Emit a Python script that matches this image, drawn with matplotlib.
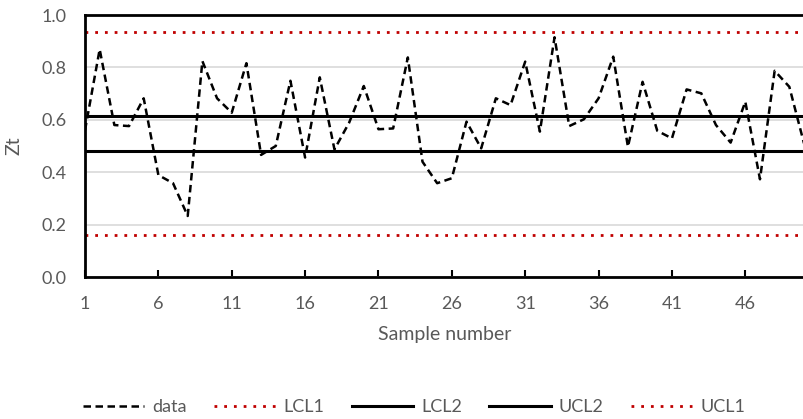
import matplotlib.pyplot as plt

# sample numbers and Zt values
samples = list(range(1, 51))
zt = [0.56, 0.869, 0.580, 0.576, 0.682, 0.389, 0.358, 0.233, 0.824, 0.682,
      0.627, 0.816, 0.466, 0.500, 0.749, 0.456, 0.762, 0.487, 0.589, 0.729,
      0.564, 0.567, 0.838, 0.440, 0.358, 0.377, 0.593, 0.491, 0.682, 0.656,
      0.822, 0.555, 0.915, 0.576, 0.602, 0.682, 0.841, 0.497, 0.745, 0.558,
      0.529, 0.716, 0.701, 0.580, 0.513, 0.669, 0.373, 0.787, 0.726, 0.510]

lcl1 = 0.160
lcl2 = 0.482
ucl2 = 0.616
ucl1 = 0.936

x_ticks = list(range(1, 50, 5))
y_ticks = [0.0, 0.2, 0.4, 0.6, 0.8, 1.0]

plt.rcParams['font.family'] = ['Lato', 'DejaVu Sans']
grey = '#595959'

fig = plt.figure(figsize=(8.04, 4.19), dpi=100)
ax = fig.add_axes([85 / 804, 1 - 277 / 419, 1 - 85 / 804, 262 / 419])

n = len(samples)
ax.plot(samples, zt, color='black', ls=(0, (3, 1.8)), lw=1.8, label='data', zorder=5)
ax.plot(samples, [lcl1] * n, color='#c00000', ls=(0, (1, 2.5)), lw=2, label='LCL1')
ax.plot(samples, [lcl2] * n, color='black', lw=2.2, label='LCL2')
ax.plot(samples, [ucl2] * n, color='black', lw=2.2, label='UCL2')
ax.plot(samples, [ucl1] * n, color='#c00000', ls=(0, (1, 2.5)), lw=2, label='UCL1')

ax.set_xlim(1, 50)
ax.set_ylim(0, 1.0)
ax.set_xticks(x_ticks)
ax.set_yticks(y_ticks)
ax.set_yticklabels([f'{v:.1f}' for v in y_ticks])
ax.yaxis.grid(True, color='#d9d9d9', lw=1.2)
ax.set_axisbelow(True)

for s in ['left', 'bottom', 'top']:
    ax.spines[s].set_linewidth(2)
    ax.spines[s].set_color('black')
ax.spines['right'].set_visible(False)

ax.tick_params(axis='x', direction='in', length=5, width=1.5, colors='black',
               labelcolor=grey, labelsize=13, pad=14)
ax.tick_params(axis='y', length=0, labelcolor=grey, labelsize=13, pad=13)

ax.set_xlabel('Sample number', color=grey, fontsize=14, labelpad=10)
ax.set_ylabel('Zt', color=grey, fontsize=14, labelpad=14)

fig.legend(loc='center', bbox_to_anchor=(0.515, 1 - 407 / 419),
           ncol=5, frameon=False, fontsize=13, labelcolor=grey,
           handlelength=3.4, columnspacing=1.5, handletextpad=0.45)

fig.savefig('out.png', dpi=100)
